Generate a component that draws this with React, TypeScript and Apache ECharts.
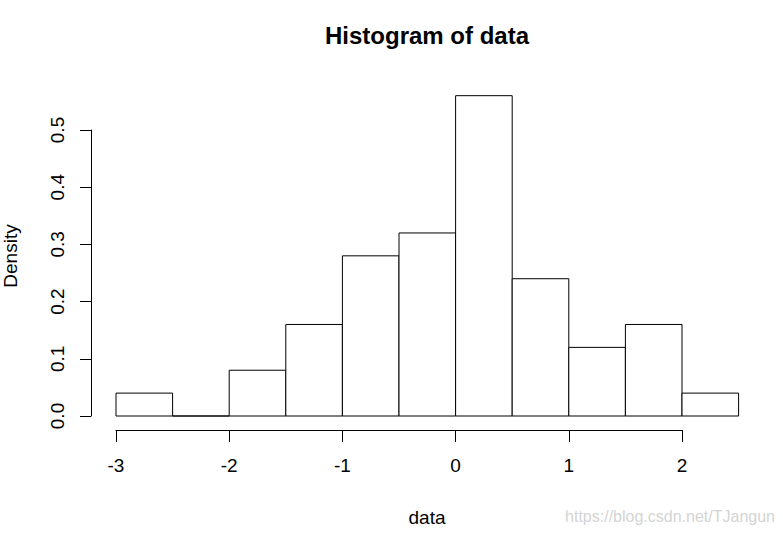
import React, { useEffect, useRef } from "react";
import * as echarts from "echarts";

const binEdges = [-3, -2.5, -2, -1.5, -1, -0.5, 0, 0.5, 1, 1.5, 2, 2.5];
const densities = [0.04, 0, 0.08, 0.16, 0.28, 0.32, 0.56, 0.24, 0.12, 0.16, 0.04];
const xTicks = [-3, -2, -1, 0, 1, 2];
const yTicks = [0, 0.1, 0.2, 0.3, 0.4, 0.5];

const FONT = "'Liberation Sans', Arial, sans-serif";

export default function App() {
  const ref = useRef<HTMLDivElement>(null);
  useEffect(() => {
    if (!ref.current) return;
    const chart = echarts.init(ref.current, undefined, { renderer: "svg" });
    const data = densities.map((d, i) => [binEdges[i], binEdges[i + 1], d]);
    chart.setOption({
      animation: false,
      backgroundColor: "#ffffff",
      textStyle: { fontFamily: FONT },
      grid: [
        { left: 116, right: 44.4, top: 130, bottom: 117 },
        { left: 116, right: 101, top: 130, bottom: 117 },
      ],
      xAxis: [
        {
          gridIndex: 0,
          type: "value",
          min: binEdges[0],
          max: binEdges[binEdges.length - 1],
          show: false,
        },
        {
          gridIndex: 1,
          type: "value",
          min: xTicks[0],
          max: xTicks[xTicks.length - 1],
          interval: 1,
          position: "bottom",
          offset: 14,
          splitLine: { show: false },
          axisLine: { show: true, onZero: false, lineStyle: { color: "#000", width: 1 } },
          axisTick: { show: true, inside: false, length: 12, lineStyle: { color: "#000", width: 1 } },
          axisLabel: {
            color: "#000",
            fontSize: 19,
            fontFamily: FONT,
            margin: 26,
            formatter: (v: number) => String(v),
          },
        },
      ],
      yAxis: [
        {
          gridIndex: 0,
          type: "value",
          min: yTicks[0],
          max: yTicks[yTicks.length - 1],
          interval: 0.1,
          position: "left",
          offset: 25,
          splitLine: { show: false },
          axisLine: { show: true, onZero: false, lineStyle: { color: "#000", width: 1 } },
          axisTick: { show: true, inside: false, length: 11, lineStyle: { color: "#000", width: 1 } },
          axisLabel: {
            color: "#000",
            fontSize: 19,
            fontFamily: FONT,
            rotate: 90,
            margin: 24,
            formatter: (v: number) => v.toFixed(1),
          },
        },
        {
          gridIndex: 1,
          type: "value",
          min: 0,
          max: 0.5,
          show: false,
        },
      ],
      graphic: [
        {
          type: "text",
          x: 427,
          y: 35,
          style: {
            text: "Histogram of data",
            font: `bold 24px ${FONT}`,
            fill: "#000",
            textAlign: "center",
            textVerticalAlign: "middle",
          },
        },
        {
          type: "text",
          x: 427,
          y: 517,
          style: {
            text: "data",
            font: `19px ${FONT}`,
            fill: "#000",
            textAlign: "center",
            textVerticalAlign: "middle",
          },
        },
        {
          type: "text",
          x: 10,
          y: 256,
          rotation: Math.PI / 2,
          style: {
            text: "Density",
            font: `19px ${FONT}`,
            fill: "#000",
            textAlign: "center",
            textVerticalAlign: "middle",
          },
        },
        {
          type: "text",
          x: 775,
          y: 516,
          style: {
            text: "https://blog.csdn.net/TJangun",
            font: `16px ${FONT}`,
            fill: "#d4d4d4",
            textAlign: "right",
            textVerticalAlign: "middle",
          },
        },
      ],
      series: [
        {
          type: "custom",
          xAxisIndex: 0,
          yAxisIndex: 0,
          clip: false,
          dimensions: ["start", "end", "density"],
          encode: { x: [0, 1], y: 2 },
          data,
          renderItem: (params: any, api: any) => {
            const x0 = api.value(0);
            const x1 = api.value(1);
            const d = api.value(2);
            const p0 = api.coord([x0, 0]);
            const p1 = api.coord([x1, d]);
            return {
              type: "rect",
              shape: {
                x: p0[0],
                y: p1[1],
                width: p1[0] - p0[0],
                height: p0[1] - p1[1],
              },
              style: { fill: "#ffffff", stroke: "#000", lineWidth: 1 },
            };
          },
        },
      ],
    });
    return () => chart.dispose();
  }, []);
  return (
    <div
      ref={ref}
      style={{ position: "fixed", left: 0, top: 0, width: 783, height: 533, background: "#fff" }}
    />
  );
}
